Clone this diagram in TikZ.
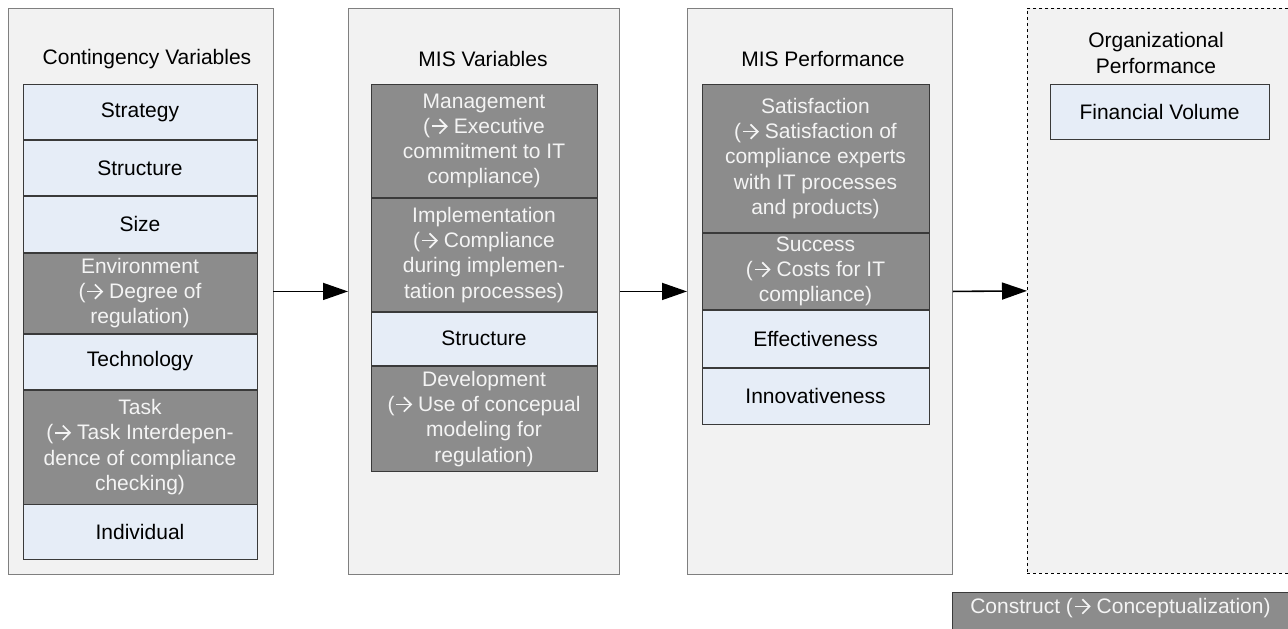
\documentclass[tikz,border=0pt]{standalone}
\usepackage{fontspec}
\setmainfont{Liberation Sans}
\usetikzlibrary{arrows.meta}
\definecolor{panelfill}{HTML}{F2F2F2}
\definecolor{panelline}{HTML}{7F7F7F}
\definecolor{lightcell}{HTML}{E6EDF7}
\definecolor{darkcell}{HTML}{8C8C8C}
\definecolor{cellline}{HTML}{3A3A3A}
\definecolor{darktext}{HTML}{F4F4F4}
% small chevron arrow used inside the construct labels
\newcommand{\pointsto}{\hspace{1pt}\tikz[x=1pt,y=1pt,baseline=0pt,line width=1.7pt]{%
  \path (0,-1) rectangle (16.5,15);
  \draw (0.5,7) -- (14.5,7);
  \draw[line join=miter] (8,14.2) -- (15.2,7) -- (8,-0.2);}}
\tikzset{
  panel/.style={draw=panelline, fill=panelfill, line width=0.9pt, anchor=north west, inner sep=0pt},
  title/.style={text=black, align=center, inner sep=0pt},
  cell/.style={draw=cellline, line width=0.9pt, anchor=north, inner sep=0pt, align=center},
  plain/.style={cell, fill=lightcell, text=black},
  construct/.style={cell, fill=darkcell, text=darktext},
  flow/.style={line width=1.6pt, -{Triangle[length=25pt,width=17pt]}},
}
\begin{document}
\begin{tikzpicture}[x=1pt, y=-1pt, font=\fontsize{21}{25.3}\selectfont]
\useasboundingbox (0,0) rectangle (1288,629);

% panels
\node[panel, minimum width=264.5pt, minimum height=566pt] (p1) at (8,8) {};
\node[panel, minimum width=271pt, minimum height=566pt] (p2) at (348,8) {};
\node[panel, minimum width=265pt, minimum height=566pt] (p3) at (687,8) {};
\node[panel, dashed, draw=black, line width=0.7pt, minimum width=265pt, minimum height=565pt] (p4) at (1027,8) {};

% panel titles
\node[title] (t1) at (147,59) {Contingency Variables};
\node[title] (t2) at (483,59) {MIS Variables};
\node[title] (t3) at (823,59) {MIS Performance};
\node[title] (t4) at (1156,53) {Organizational\\Performance};

% contingency variables
\begin{scope}[every node/.append style={minimum width=234pt}]
\node[plain, minimum height=55pt] (c1) at (140,84) {Strategy};
\node[plain, minimum height=55pt] (c2) at (c1.south) {Structure};
\node[plain, minimum height=56pt] (c3) at (c2.south) {Size};
\node[construct, minimum height=80pt] (c4) at (c3.south) {Environment\\(\pointsto{} Degree of\\regulation)};
\node[plain, minimum height=55pt] (c5) at (c4.south) {Technology};
\node[construct, minimum height=114pt] (c6) at (c5.south) {Task\\(\pointsto{} Task Interdepen-\\dence of compliance\\checking)};
\node[plain, minimum height=55pt] (c7) at (c6.south) {Individual};
\end{scope}

% MIS variables
\begin{scope}[every node/.append style={minimum width=226pt}]
\node[construct, minimum height=113pt] (m1) at (484,84) {Management\\(\pointsto{} Executive\\commitment to IT\\compliance)};
\node[construct, minimum height=113pt] (m2) at (m1.south) {Implementation\\(\pointsto{} Compliance\\during implemen-\\tation processes)};
\node[plain, minimum height=53pt] (m3) at (m2.south) {Structure};
\node[construct, minimum height=105pt] (m4) at (m3.south) {Development\\(\pointsto{} Use of concepual\\modeling for\\regulation)};
\end{scope}

% MIS performance
\begin{scope}[every node/.append style={minimum width=227pt}]
\node[construct, minimum height=148pt] (s1) at (815.5,84) {Satisfaction\\(\pointsto{} Satisfaction of\\compliance experts\\with IT processes\\and products)};
\node[construct, minimum height=76pt] (s2) at (s1.south) {Success\\(\pointsto{} Costs for IT\\compliance)};
\node[plain, minimum height=57pt] (s3) at (s2.south) {Effectiveness};
\node[plain, minimum height=56pt] (s4) at (s3.south) {Innovativeness};
\end{scope}

% organizational performance
\node[plain, minimum width=219pt, minimum height=55pt] (o1) at (1159.5,84) {Financial Volume};

% flow between panels
\draw[flow] (p1.east) -- (p2.west);
\draw[flow] (p2.east) -- (p3.west);
\draw[flow] (p3.east) -- (p4.west);

% legend
\node[construct, anchor=north west, minimum width=340pt, inner ysep=0pt, text height=21pt, text depth=27pt] (legend) at (952,592) {\hspace*{-4pt}Construct (\pointsto{} Conceptualization)};
\end{tikzpicture}
\end{document}
